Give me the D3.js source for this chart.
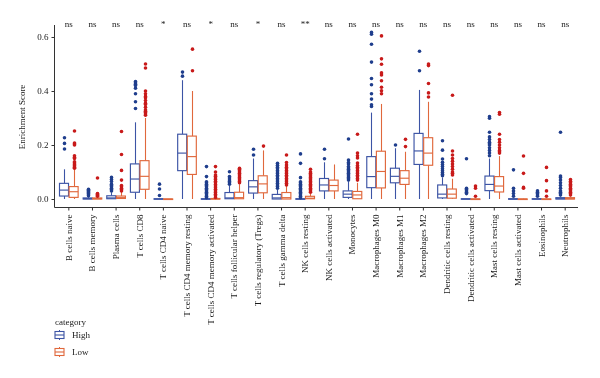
<!DOCTYPE html>
<html><head><meta charset="utf-8">
<script src="https://cdn.jsdelivr.net/npm/d3@7"></script>
<style>body{margin:0;background:#fff}svg{will-change:transform}svg text{font-family:"Liberation Serif","DejaVu Serif",serif}</style>
</head><body><svg id="c" width="600" height="378"></svg>
<script>
const categories = ["B cells naive","B cells memory","Plasma cells","T cells CD8","T cells CD4 naive","T cells CD4 memory resting","T cells CD4 memory activated","T cells follicular helper","T cells regulatory (Tregs)","T cells gamma delta","NK cells resting","NK cells activated","Monocytes","Macrophages M0","Macrophages M1","Macrophages M2","Dendritic cells resting","Dendritic cells activated","Mast cells resting","Mast cells activated","Eosinophils","Neutrophils"];
const significance = ["ns","ns","ns","ns","*","ns","*","ns","*","ns","**","ns","ns","ns","ns","ns","ns","ns","ns","ns","ns","ns"];
const groups = ["High","Low"];
const yTicks = [0.0,0.2,0.4,0.6];
// [lower whisker, q1, median, q3, upper whisker]
const highStats = [
 [0,0.011,0.033,0.058,0.11],[0,0,0.001,0.004,0.008],[0,0.001,0.004,0.012,0.025],[0,0.025,0.074,0.13,0.284],
 [0,0,0,0.001,0.002],[0,0.105,0.17,0.24,0.44],[0,0,0,0.001,0.002],[0,0.001,0.004,0.024,0.05],
 [0,0.022,0.045,0.068,0.15],[0,0,0.004,0.017,0.035],[0,0,0,0.001,0.003],[0,0.03,0.052,0.076,0.136],
 [0,0.006,0.018,0.03,0.064],[0,0.042,0.083,0.157,0.32],[0,0.06,0.084,0.114,0.188],[0,0.128,0.178,0.243,0.404],
 [0,0.004,0.018,0.052,0.08],[0,0,0,0.001,0.002],[0,0.031,0.054,0.085,0.15],[0,0,0,0.001,0.003],
 [0,0,0,0.001,0.002],[0,0,0.001,0.005,0.01]
];
const lowStats = [
 [0,0.006,0.027,0.046,0.11],[0,0,0.001,0.004,0.008],[0,0.002,0.005,0.011,0.026],[0,0.036,0.084,0.142,0.30],
 [0,0,0,0,0],[0,0.091,0.157,0.233,0.40],[0,0,0,0.002,0.004],[0,0.001,0.005,0.025,0.055],
 [0,0.023,0.056,0.086,0.18],[0,0,0.005,0.024,0.05],[0,0.001,0.003,0.01,0.02],[0,0.03,0.05,0.07,0.128],
 [0,0.001,0.015,0.028,0.06],[0,0.041,0.102,0.177,0.352],[0,0.054,0.077,0.105,0.175],[0,0.125,0.17,0.227,0.36],
 [0,0.003,0.018,0.037,0.075],[0,0,0,0,0.001],[0,0.026,0.048,0.083,0.159],[0,0,0,0,0.001],
 [0,0,0,0,0.001],[0,0,0.001,0.005,0.01]
];
const highOutliers = [
 [0.185,0.206,0.227],
 [0.012,0.016,0.02,0.024,0.028,0.032,0.036],
 [0.03,0.035,0.04,0.045,0.05,0.055,0.065,0.072,0.08],
 [0.335,0.36,0.39,0.41,0.42,0.425,0.43,0.435],
 [0.013,0.037,0.055],
 [0.455,0.47],
 [0.005,0.01,0.015,0.02,0.025,0.03,0.035,0.04,0.045,0.05,0.055,0.06,0.064,0.083,0.12],
 [0.055,0.06,0.065,0.07,0.078,0.083,0.101],
 [0.163,0.184],
 [0.04,0.046,0.052,0.058,0.064,0.07,0.076,0.082,0.088,0.094,0.1,0.106,0.112,0.118,0.125,0.132],
 [0.005,0.01,0.015,0.02,0.025,0.03,0.035,0.04,0.045,0.05,0.055,0.06,0.064,0.079,0.132,0.167],
 [0.149,0.184],
 [0.07,0.075,0.08,0.085,0.09,0.095,0.1,0.105,0.11,0.115,0.12,0.13,0.135,0.144,0.222],
 [0.343,0.349,0.37,0.39,0.423,0.446,0.507,0.573,0.61,0.617],
 [0.2],
 [0.475,0.547],
 [0.086,0.092,0.098,0.105,0.112,0.12,0.128,0.136,0.148,0.181,0.216],
 [0.02,0.025,0.03,0.035,0.04,0.149],
 [0.16,0.17,0.18,0.19,0.2,0.205,0.21,0.22,0.23,0.247,0.299,0.305],
 [0.01,0.02,0.03,0.04,0.108],
 [0.01,0.015,0.02,0.025,0.03],
 [0.015,0.02,0.025,0.03,0.04,0.05,0.06,0.07,0.08,0.085,0.247]
];
const lowOutliers = [
 [0.114,0.118,0.122,0.126,0.13,0.134,0.138,0.15,0.155,0.16,0.2,0.204,0.207,0.252],
 [0.01,0.014,0.018,0.02,0.078],
 [0.03,0.035,0.04,0.045,0.05,0.07,0.106,0.165,0.25],
 [0.31,0.315,0.32,0.325,0.33,0.34,0.35,0.355,0.365,0.375,0.38,0.39,0.40,0.485,0.50],
 [],
 [0.475,0.555],
 [0.006,0.012,0.018,0.024,0.03,0.036,0.042,0.048,0.054,0.06,0.066,0.072,0.078,0.084,0.089,0.1,0.12],
 [0.06,0.065,0.07,0.075,0.08,0.085,0.09,0.095,0.1,0.105,0.11,0.114],
 [0.196],
 [0.052,0.058,0.064,0.07,0.076,0.082,0.088,0.094,0.1,0.106,0.112,0.118,0.126,0.135,0.163],
 [0.025,0.03,0.035,0.04,0.045,0.05,0.055,0.06,0.065,0.07,0.075,0.08,0.085,0.09,0.095,0.1,0.11],
 [],
 [0.07,0.076,0.082,0.088,0.094,0.1,0.106,0.112,0.118,0.124,0.133,0.152,0.16,0.17,0.24],
 [0.39,0.401,0.414,0.438,0.459,0.467,0.499,0.519,0.604],
 [0.194,0.221],
 [0.378,0.393,0.428,0.494,0.5],
 [0.089,0.095,0.1,0.11,0.12,0.13,0.14,0.15,0.163,0.178,0.384],
 [0.01,0.04,0.048],
 [0.17,0.175,0.18,0.19,0.2,0.21,0.22,0.24,0.314,0.32],
 [0.04,0.043,0.095,0.159],
 [0.01,0.03,0.068,0.117],
 [0.015,0.02,0.025,0.03,0.035,0.04,0.045,0.05,0.055,0.06,0.066,0.072]
];
const boxColor = {High:"#3C54A5", Low:"#E0683C"};
const dotColor = {High:"#1F3E8D", Low:"#C81A1A"};
const textColor = "#1a1a1a";

const svg = d3.select("#c");
const x = d3.scaleBand().domain(categories).range([57,577]);
const xg = d3.scaleBand().domain(groups).range([0,x.bandwidth()]).paddingInner(0.0625).paddingOuter(0.26);
const y = d3.scaleLinear().domain([-0.0296,0.6444]).range([207,25]);

// axes
const ya = svg.append("g").attr("transform","translate(54.5,0)")
  .call(d3.axisLeft(y).tickValues(yTicks).tickFormat(d3.format(".1f")).tickSize(3).tickSizeOuter(0));
ya.select(".domain").remove();
ya.selectAll("text").attr("font-size",9).attr("fill",textColor);
ya.selectAll("line").attr("stroke","#333");
svg.append("line").attr("x1",54.5).attr("x2",54.5).attr("y1",25).attr("y2",207.5).attr("stroke","#333").attr("stroke-width",1);
svg.append("line").attr("x1",54.5).attr("x2",578).attr("y1",207.5).attr("y2",207.5).attr("stroke","#333").attr("stroke-width",1);
const xa = svg.append("g").attr("transform","translate(0,207.5)")
  .call(d3.axisBottom(x).tickSize(3).tickSizeOuter(0));
xa.select(".domain").remove();
xa.selectAll("line").attr("stroke","#333");
xa.selectAll("text").attr("font-size",9).attr("fill",textColor)
  .attr("transform","rotate(-90)").attr("text-anchor","end").attr("y",0).attr("x",-7)
  .attr("dominant-baseline","central").attr("dy",null);

svg.append("text").attr("transform","translate(25,117) rotate(-90)").attr("text-anchor","middle")
  .attr("font-size",9).attr("fill",textColor).text("Enrichment Score");

// significance
svg.append("g").selectAll("text").data(categories).join("text")
  .attr("x",d=>x(d)+x.bandwidth()/2).attr("y",27).attr("text-anchor","middle")
  .attr("font-size",9).attr("fill",textColor).text((d,i)=>significance[i]);

function drawGroup(g, stats, outs){
  const w = xg.bandwidth();
  const layer = svg.append("g");
  categories.forEach((c,i)=>{
    const s = stats[i];
    const x0 = x(c)+xg(g);
    const cx = Math.round(x0+w/2)+0.5;
    const gg = layer.append("g");
    gg.append("line").attr("x1",cx).attr("x2",cx).attr("y1",y(s[0])).attr("y2",y(s[1])).attr("stroke",boxColor[g]).attr("stroke-width",1.1);
    gg.append("line").attr("x1",cx).attr("x2",cx).attr("y1",y(s[3])).attr("y2",y(s[4])).attr("stroke",boxColor[g]).attr("stroke-width",1.1);
    gg.append("rect").attr("x",x0).attr("width",w).attr("y",y(s[3])).attr("height",Math.max(0.5,y(s[1])-y(s[3])))
      .attr("fill","#fff").attr("stroke",boxColor[g]).attr("stroke-width",1.15);
    gg.append("line").attr("x1",x0).attr("x2",x0+w).attr("y1",y(s[2])).attr("y2",y(s[2])).attr("stroke",boxColor[g]).attr("stroke-width",1.15);
    gg.selectAll("circle").data(outs[i]).join("circle").attr("cx",cx).attr("cy",d=>y(d)).attr("r",1.8).attr("fill",dotColor[g]);
  });
}
drawGroup("High", highStats, highOutliers);
drawGroup("Low", lowStats, lowOutliers);

// legend
const lg = svg.append("g");
lg.append("text").attr("x",55).attr("y",325).attr("font-size",9).attr("fill",textColor).text("category");
groups.forEach((g,i)=>{
  const yy = 335 + i*17;
  const gl = lg.append("g");
  gl.append("line").attr("x1",59.5).attr("x2",59.5).attr("y1",yy-5).attr("y2",yy+5).attr("stroke",boxColor[g]);
  gl.append("rect").attr("x",55).attr("y",yy-3.5).attr("width",9).attr("height",7).attr("fill","#fff").attr("stroke",boxColor[g]).attr("stroke-width",1.1);
  gl.append("line").attr("x1",55).attr("x2",64).attr("y1",yy).attr("y2",yy).attr("stroke",boxColor[g]).attr("stroke-width",1.1);
  lg.append("text").attr("x",72).attr("y",yy+3).attr("font-size",9).attr("fill",textColor).text(g);
});
</script></body></html>
